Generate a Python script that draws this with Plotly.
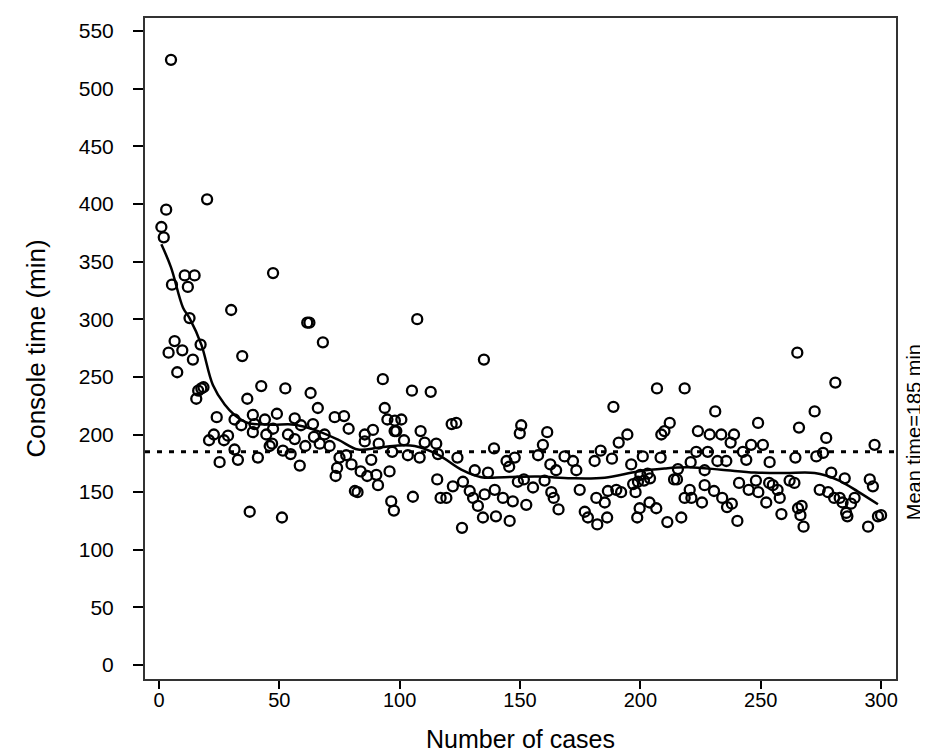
import plotly.graph_objects as go

# Scatter data: case number and console time (min)
cases = [1, 2, 3, 5, 5.4, 4, 6.5, 7.6, 9.7, 10.7, 12, 12.7, 14.1, 14.8, 15.5, 16.3, 17.3, 17.6, 18.5, 20,
         20.8, 22.8, 24, 25.2, 27, 28.7, 30, 31.4, 31.4, 32.8, 34.2, 34.6, 36.7, 37.7, 39, 39, 39.7, 41.1, 42.5, 44,
         44.6, 46, 47, 47.4, 47.4, 49, 51.1, 51.5, 52.5, 53.6, 54.7, 56.4, 56.4, 58.5, 59, 60.8, 61.6, 62.5, 63, 64,
         64.4, 66, 66.8, 68.1, 68.8, 70.9, 73, 73.4, 74, 75, 76.9, 77.8, 78.8, 80, 81.4, 82.5, 83.8, 85.5, 85.5, 86.5,
         88.2, 88.9, 90.3, 91, 91.3, 93, 93.8, 94.9, 95.8, 96.5, 96.9, 97.6, 97.9, 98, 98.6,
         100.7, 101.8, 103.4, 105.1, 105.5, 107.3, 108.3, 108.7, 110.4, 112.9, 115.2, 115.6, 115.9, 117, 119.4, 121.6,
         122.1, 123.5, 124, 125.9, 126.3, 129.1, 130.5, 131.2, 132.5, 134.6, 135, 135.3, 136.7, 139.2, 139.5, 140,
         142.9, 144.4, 145.5, 145.7, 147, 147.8, 149.1, 149.9, 150.5, 151.6, 152.6, 155.4, 157.5, 159.5, 160.2, 161.3,
         162.6, 163, 164, 165, 166, 168.5, 172, 173.4, 174.8, 176.9, 178.2, 181, 181.7, 182.1, 183.5, 185.2, 186.2,
         186.5, 188.2, 188.8, 190, 191, 192, 194.6, 196.2, 197, 198, 198.7, 199, 199.7,
         201, 200, 201.5, 203, 203.8, 204, 206.6, 206.9, 208.4, 208.7, 210, 211.2, 212.2, 214, 215.2, 215.6, 217,
         218.4, 218.4, 220.5, 220.9, 221.2, 223.2, 223.9, 225.6, 226.7, 226.7, 228, 228.8, 230.6, 231.1, 232, 233.6,
         234, 235.7, 236, 237.5, 238, 238.9, 240.3, 241, 242.6, 244, 245, 246, 248, 248.9, 249, 250.9, 252.3, 253.5,
         253.7, 255, 257, 257.9, 258.6, 262, 264, 264.4, 265.2, 265.5, 265.9, 266.5, 267, 267.8, 272.4, 273.1, 274.5,
         275.9, 277.2, 278, 279.3, 280.5, 281, 282.8, 284, 284.9, 285.5, 286, 287.5, 289, 294.6, 295.3, 296.6, 297.3,
         298.7, 300]
console_time = [380, 371, 395, 525, 330, 271, 281, 254, 273, 338, 328, 301, 265, 338, 231, 238, 278, 240, 241, 404,
                195, 200, 215, 176, 195, 199, 308, 213, 187, 178, 208, 268, 231, 133, 217, 202, 209, 180, 242, 213,
                200, 190, 192, 340, 205, 218, 128, 186, 240, 200, 183, 214, 196, 173, 208, 190, 297, 297, 236, 209,
                198, 223, 192, 280, 200, 190, 215, 164, 171, 180, 216, 182, 205, 174, 151, 150, 168, 200, 194, 164,
                178, 204, 165, 156, 192, 248, 223, 213, 168, 142, 185, 134, 203, 212, 203,
                213, 195, 182, 238, 146, 300, 180, 203, 193, 237, 192, 161, 183, 145, 145, 209,
                155, 210, 180, 119, 159, 151, 145, 169, 138, 128, 265, 148, 167, 188, 152, 129,
                145, 177, 172, 125, 142, 180, 159, 201, 208, 161, 139, 154, 182, 191, 160, 202,
                174, 150, 145, 169, 135, 181, 177, 169, 152, 133, 128, 177, 145, 122, 186, 141, 128,
                151, 179, 224, 152, 193, 150, 200, 174, 157, 150, 128, 159, 136,
                181, 165, 160, 166, 141, 162, 136, 240, 180, 200, 203, 124, 210, 161, 161, 170, 128,
                240, 145, 152, 176, 145, 185, 203, 141, 169, 156, 185, 200, 151, 220, 177, 200,
                145, 177, 137, 193, 140, 200, 125, 158, 185, 178, 152, 191, 160, 210, 150, 191, 141, 158,
                176, 156, 152, 145, 131, 160, 158, 180, 271, 136, 206, 130, 138, 120, 220, 181, 152,
                184, 197, 150, 167, 145, 245, 145, 141, 162, 132, 129, 140, 145, 120, 161, 155, 191,
                129, 130]

# Smoothed trend curve
fit_x = [1, 5, 10, 12.7, 17.6, 22.4, 27.3, 31.4, 37, 46.7, 56.4, 64.7, 74.4, 82.7, 91, 99.3, 106.2, 115.9,
         125.6, 133.9, 143.6, 157.5, 171.3, 185.2, 199, 210, 219.8, 233.6, 247.5, 260, 272.4, 282.1, 290.4, 298.7]
fit_y = [365, 345, 310, 301, 278, 243, 226, 217, 210, 208.5, 208.5, 204, 195.5, 187, 188.5, 190.5, 190, 182.5,
         169.5, 163, 163, 163.5, 162, 162.5, 168, 170.5, 171.5, 169.5, 167, 166.5, 166.5, 160.5, 150.5, 139.5]

mean_time = 185
x_ticks = [0, 50, 100, 150, 200, 250, 300]
y_ticks = [0, 50, 100, 150, 200, 250, 300, 350, 400, 450, 500, 550]

FONT = "Liberation Sans, Arial, sans-serif"

fig = go.Figure()
fig.add_trace(go.Scatter(
    x=cases, y=console_time, mode="markers",
    marker=dict(symbol="circle-open", size=10, color="black", line=dict(width=2.3, color="black")),
    showlegend=False, hoverinfo="skip"))
fig.add_trace(go.Scatter(
    x=fit_x, y=fit_y, mode="lines",
    line=dict(color="black", width=2.5, shape="spline", smoothing=1.0),
    showlegend=False, hoverinfo="skip"))
fig.add_trace(go.Scatter(
    x=[-5.8, 306.2], y=[mean_time, mean_time], mode="lines",
    line=dict(color="black", width=3, dash="5px,7px"),
    showlegend=False, hoverinfo="skip"))

fig.add_annotation(
    x=1.024, xref="paper", y=202, yref="y", text="Mean time=185 min",
    textangle=-90, showarrow=False, xanchor="center", yanchor="middle",
    font=dict(family=FONT, size=20, color="black"))

fig.update_layout(
    width=928, height=756,
    margin=dict(l=137, r=40, t=10, b=85),
    plot_bgcolor="white", paper_bgcolor="white",
    font=dict(family=FONT, color="black"),
)
fig.update_xaxes(
    range=[-5.8, 306.2], tickvals=x_ticks, ticktext=[str(v) for v in x_ticks],
    ticks="outside", ticklen=8, tickwidth=2, tickcolor="black", ticklabelstandoff=-6,
    showline=True, linecolor="#333", linewidth=2, mirror=True,
    showgrid=False, zeroline=False, automargin=False,
    tickfont=dict(family=FONT, size=20, color="black"),
    title=dict(text="Number of cases", font=dict(family=FONT, size=25, color="black"), standoff=20),
)
fig.update_yaxes(
    range=[-12.1, 561.3], tickvals=y_ticks, ticktext=[str(v) for v in y_ticks],
    ticks="outside", ticklen=10, tickwidth=2, tickcolor="black", ticklabelstandoff=15,
    showline=True, linecolor="#333", linewidth=2, mirror=True,
    showgrid=False, zeroline=False, automargin=False,
    tickfont=dict(family=FONT, size=21, color="black"),
    title=dict(text="Console time (min)", font=dict(family=FONT, size=26, color="black"), standoff=26),
)

fig.write_html("out.html")
